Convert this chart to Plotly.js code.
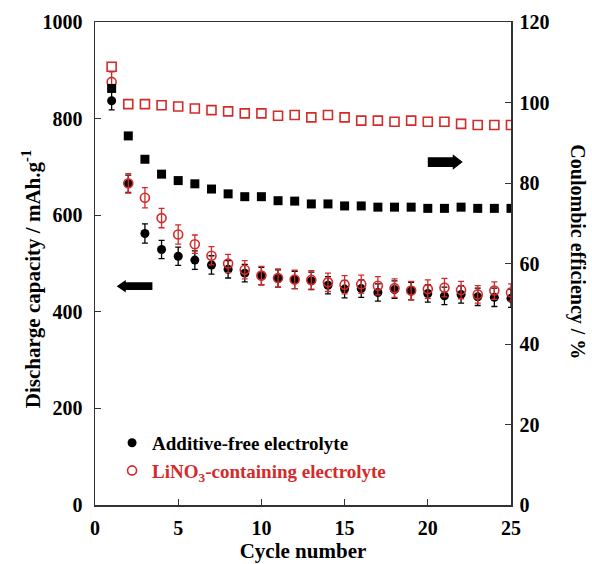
<!DOCTYPE html>
<html>
<head>
<meta charset="utf-8">
<script src="https://cdn.plot.ly/plotly-3.0.1.min.js"></script>
<style>html,body{margin:0;padding:0;background:#fff;}#chart{width:592px;height:564px;}</style>
</head>
<body>
<div id="chart"></div>
<script>
// Data
var cycles = [1,2,3,4,5,6,7,8,9,10,11,12,13,14,15,16,17,18,19,20,21,22,23,24,25];

// Discharge capacity (mAh/g), left axis
var capFree  = [837,665,562,529,515,507,497,488,480,474,469,466,464,455,447,448,440,446,443,438,433,436,431,430,428];
var capFreeErr = [19,18,20,19,19,19,19,18,18,18,18,18,18,18,18,18,18,18,18,18,18,18,18,19,19];
var capLiNO3 = [876,666,636,594,560,540,516,500,487,475,470,467,466,461,456,457,454,449,444,447,450,445,436,444,440];
var capLiNO3Err = [21,20,21,20,20,19,19,19,19,19,19,19,19,19,19,19,19,19,19,19,19,18,18,18,18];

// Coulombic efficiency (%), right axis
var ceFree  = [103.5,91.7,85.9,82.2,80.6,79.8,78.5,77.3,76.6,76.6,75.6,75.5,74.8,74.8,74.3,74.3,74.0,74.0,74.0,73.7,73.7,74.0,73.7,73.7,73.7];
var ceLiNO3 = [108.9,99.6,99.6,99.3,99.0,98.5,98.1,97.8,97.3,97.3,96.7,96.9,96.3,96.9,96.3,95.5,95.5,95.2,95.5,95.2,95.2,94.7,94.4,94.4,94.4];

var xTicks = [0,5,10,15,20,25];
var yTicks = [0,200,400,600,800,1000];
var y2Ticks = [0,20,40,60,80,100,120];

var RED = '#d42a2a';
var FONT = 'Liberation Serif, Times New Roman, serif';
var TICKSIZE = 20;

function bold(v){ return '<b>' + v + '</b>'; }

var traces = [
  {x: cycles, y: ceFree, yaxis: 'y2', mode: 'markers', type: 'scatter', showlegend: false,
   marker: {symbol: 'square', size: 9, color: '#000'}},
  {x: cycles, y: ceLiNO3, yaxis: 'y2', mode: 'markers', type: 'scatter', showlegend: false,
   marker: {symbol: 'square-open', size: 9, color: RED, line: {width: 1.6, color: RED}}},
  {x: cycles, y: capFree, mode: 'markers', type: 'scatter', name: '<b>Additive-free electrolyte</b>',
   marker: {symbol: 'circle', size: 9, color: '#000'},
   error_y: {type: 'data', array: capFreeErr, visible: true, color: '#000', thickness: 1.3, width: 3}},
  {x: cycles, y: capLiNO3, mode: 'markers', type: 'scatter',
   name: '<span style="color:' + RED + '"><b>LiNO<sub>3</sub>-containing electrolyte</b></span>',
   marker: {symbol: 'circle-open', size: 9, color: RED, line: {width: 1.6, color: RED}},
   error_y: {type: 'data', array: capLiNO3Err, visible: true, color: RED, thickness: 1.3, width: 3}}
];

var layout = {
  width: 592, height: 564,
  margin: {l: 95, r: 81, t: 22, b: 59},
  paper_bgcolor: '#fff', plot_bgcolor: '#fff',
  font: {family: FONT, size: TICKSIZE, color: '#000'},
  showlegend: true,
  legend: {x: 0.041, y: 0.168, xanchor: 'left', yanchor: 'top', bgcolor: 'rgba(0,0,0,0)',
           font: {family: FONT, size: 19, color: '#000'}, itemwidth: 30, tracegroupgap: 0},
  xaxis: {range: [0, 25], tickvals: xTicks, ticktext: xTicks.map(bold),
          ticks: 'inside', ticklen: 6, tickcolor: '#333', showline: true, linecolor: '#333', linewidth: 1.5,
          mirror: true, showgrid: false, zeroline: false, ticklabelstandoff: 4,
          tickfont: {family: FONT, size: TICKSIZE},
          title: {text: '<b>Cycle number</b>', font: {family: FONT, size: 21}, standoff: 6}},
  yaxis: {range: [0, 1000], tickvals: yTicks, ticktext: yTicks.map(bold),
          ticks: 'inside', ticklen: 6, tickcolor: '#333', showline: true, linecolor: '#333', linewidth: 1.5,
          showgrid: false, zeroline: false, ticklabelstandoff: 7,
          tickfont: {family: FONT, size: TICKSIZE}},
  yaxis2: {range: [0, 120], overlaying: 'y', side: 'right', tickvals: y2Ticks, ticktext: y2Ticks.map(bold),
           ticks: 'inside', ticklen: 6, tickcolor: '#333', showline: true, linecolor: '#333', linewidth: 1.5,
           showgrid: false, zeroline: false, ticklabelstandoff: 3,
           tickfont: {family: FONT, size: TICKSIZE}},
  annotations: [
    {text: '<b>Discharge capacity / mAh.g<sup>-1</sup></b>', xref: 'paper', yref: 'paper', x: -0.151, y: 0.468,
     xanchor: 'center', yanchor: 'middle', textangle: -90, showarrow: false, font: {family: FONT, size: 21}},
    {text: '<b>Coulombic efficiency / %</b>', xref: 'paper', yref: 'paper', x: 1.16, y: 0.524,
     xanchor: 'center', yanchor: 'middle', textangle: 90, showarrow: false, font: {family: FONT, size: 20}}
  ],
  shapes: [
    // left-pointing arrow (capacity -> left axis)
    {type: 'path', xref: 'x', yref: 'y', fillcolor: '#000', line: {width: 0},
     path: 'M1.30,453 L1.85,466 L1.85,461 L3.45,461 L3.45,445 L1.85,445 L1.85,440 Z'},
    // right-pointing arrow (CE -> right axis)
    {type: 'path', xref: 'x', yref: 'y', fillcolor: '#000', line: {width: 0},
     path: 'M22.10,710 L21.50,726 L21.50,720 L20.0,720 L20.0,700 L21.50,700 L21.50,694 Z'}
  ]
};

Plotly.newPlot('chart', traces, layout, {staticPlot: true, displayModeBar: false});
</script>
</body>
</html>
